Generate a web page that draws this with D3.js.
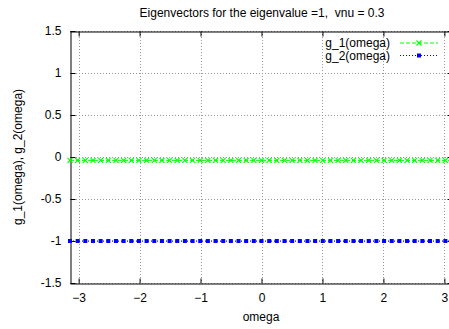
<!DOCTYPE html>
<html>
<head>
<meta charset="utf-8">
<script src="https://cdn.jsdelivr.net/npm/d3@7"></script>
<style>
  html, body { margin: 0; padding: 0; background: #fff; }
  svg { display: block; font-family: "Liberation Sans", Arial, sans-serif; }
</style>
</head>
<body>
<svg id="chart" width="449" height="329"></svg>
<script>
// Sample points of omega on [-pi, pi]
const omega = [
  -3.1416, -3.0159, -2.8903, -2.7646, -2.6389, -2.5133, -2.3876, -2.2619, -2.1363, -2.0106,
  -1.8850, -1.7593, -1.6336, -1.5080, -1.3823, -1.2566, -1.1310, -1.0053, -0.8796, -0.7540,
  -0.6283, -0.5027, -0.3770, -0.2513, -0.1257, 0.0000, 0.1257, 0.2513, 0.3770, 0.5027,
  0.6283, 0.7540, 0.8796, 1.0053, 1.1310, 1.2566, 1.3823, 1.5080, 1.6336, 1.7593,
  1.8850, 2.0106, 2.1363, 2.2619, 2.3876, 2.5133, 2.6389, 2.7646, 2.8903, 3.0159, 3.1416
];
// Eigenvector components
const g1 = [
  -0.04, -0.04, -0.04, -0.04, -0.04, -0.04, -0.04, -0.04, -0.04, -0.04,
  -0.04, -0.04, -0.04, -0.04, -0.04, -0.04, -0.04, -0.04, -0.04, -0.04,
  -0.04, -0.04, -0.04, -0.04, -0.04, -0.04, -0.04, -0.04, -0.04, -0.04,
  -0.04, -0.04, -0.04, -0.04, -0.04, -0.04, -0.04, -0.04, -0.04, -0.04,
  -0.04, -0.04, -0.04, -0.04, -0.04, -0.04, -0.04, -0.04, -0.04, -0.04, -0.04
];
const g2 = [
  -1, -1, -1, -1, -1, -1, -1, -1, -1, -1,
  -1, -1, -1, -1, -1, -1, -1, -1, -1, -1,
  -1, -1, -1, -1, -1, -1, -1, -1, -1, -1,
  -1, -1, -1, -1, -1, -1, -1, -1, -1, -1,
  -1, -1, -1, -1, -1, -1, -1, -1, -1, -1, -1
];
const xTicks = [-3, -2, -1, 0, 1, 2, 3];
const yTicks = [-1.5, -1, -0.5, 0, 0.5, 1, 1.5];
const seriesNames = ["g_1(omega)", "g_2(omega)"];

const svg = d3.select("#chart");
const W = 449, H = 329;
const margin = { left: 70, right: -4, top: 31, bottom: 46 };
const x = d3.scaleLinear().domain([-Math.PI, Math.PI]).range([margin.left, W - margin.right]);
const y = d3.scaleLinear().domain([-1.5, 1.5]).range([H - margin.bottom, margin.top]);
const fs = 12;

// grid
const grid = svg.append("g").attr("stroke", "#999").attr("stroke-width", 1).attr("stroke-dasharray", "1,2");
xTicks.forEach(t => {
  grid.append("line").attr("x1", Math.round(x(t)) + 0.5).attr("x2", Math.round(x(t)) + 0.5)
    .attr("y1", y(1.5)).attr("y2", y(-1.5));
});
yTicks.forEach(t => {
  grid.append("line").attr("y1", Math.round(y(t)) + 0.5).attr("y2", Math.round(y(t)) + 0.5)
    .attr("x1", x(-Math.PI)).attr("x2", x(Math.PI));
});

// axes with inward ticks on all sides
const tickLen = 5;
const xb = svg.append("g").attr("transform", `translate(0,${y(-1.5) + 0.5})`)
  .call(d3.axisBottom(x).tickValues(xTicks).tickSizeInner(-tickLen).tickSizeOuter(0).tickPadding(10).tickFormat(d3.format("d")));
const xt = svg.append("g").attr("transform", `translate(0,${y(1.5) + 0.5})`)
  .call(d3.axisTop(x).tickValues(xTicks).tickSizeInner(-tickLen).tickSizeOuter(0).tickFormat(""));
const yl = svg.append("g").attr("transform", `translate(${x(-Math.PI) + 0.5},0)`)
  .call(d3.axisLeft(y).tickValues(yTicks).tickSizeInner(-tickLen).tickSizeOuter(0).tickPadding(9).tickFormat(d => String(d)));
const yr = svg.append("g").attr("transform", `translate(${x(Math.PI) - 0.5},0)`)
  .call(d3.axisRight(y).tickValues(yTicks).tickSizeInner(-tickLen).tickSizeOuter(0).tickFormat(""));
[xb, xt, yl, yr].forEach(g => {
  g.selectAll("path.domain").attr("stroke", "#000").attr("stroke-width", 1);
  g.selectAll(".tick line").attr("stroke", "#000");
  g.selectAll("text").attr("font-size", fs).attr("font-family", "Liberation Sans, Arial, sans-serif").attr("fill", "#000");
});

// series
const line = d3.line().x(d => x(d[0])).y(d => y(d[1]));
const d1 = omega.map((o, i) => [o, g1[i]]);
const d2 = omega.map((o, i) => [o, g2[i]]);
const plot = svg.append("g");

plot.append("path").datum(d1).attr("d", line).attr("fill", "none")
  .attr("stroke", "#00ff00").attr("stroke-width", 1).attr("stroke-dasharray", "4,2");
plot.append("path").datum(d2).attr("d", line).attr("fill", "none")
  .attr("stroke", "#0000ff").attr("stroke-width", 1).attr("stroke-dasharray", "1,2");

const xMark = (g, cx, cy, s) => {
  g.append("path").attr("d", `M${cx - s},${cy - s}L${cx + s},${cy + s}M${cx - s},${cy + s}L${cx + s},${cy - s}`)
    .attr("stroke", "#00ff00").attr("stroke-width", 1.2).attr("fill", "none");
};
const sqMark = (g, cx, cy, s) => {
  g.append("rect").attr("x", cx - s).attr("y", cy - s).attr("width", 2 * s).attr("height", 2 * s)
    .attr("fill", "#0000ff");
};
d1.forEach(d => xMark(plot, x(d[0]), y(d[1]), 2.5));
d2.forEach(d => sqMark(plot, x(d[0]), y(d[1]), 2));

// legend
const leg = svg.append("g");
[0, 1].forEach(i => {
  const ly = 43 + i * 12.5;
  leg.append("text").attr("x", 390).attr("y", ly).attr("dy", "0.35em").attr("text-anchor", "end")
    .attr("font-size", fs).text(seriesNames[i]);
  leg.append("line").attr("x1", 400).attr("x2", 438).attr("y1", ly).attr("y2", ly)
    .attr("stroke", i === 0 ? "#00ff00" : "#0000ff").attr("stroke-width", 1)
    .attr("stroke-dasharray", i === 0 ? "4,2" : "1,2");
  if (i === 0) xMark(leg, 419, ly, 2.5); else sqMark(leg, 419, ly, 2);
});

// titles
svg.append("text").attr("x", 262).attr("y", 13).attr("dy", "0.35em").attr("text-anchor", "middle")
  .attr("font-size", fs).style("white-space", "pre").text("Eigenvectors for the eigenvalue =1,  vnu = 0.3");
svg.append("text").attr("x", 261).attr("y", 317).attr("dy", "0.35em").attr("text-anchor", "middle")
  .attr("font-size", fs).text("omega");
svg.append("text").attr("transform", `translate(18,${y(0)}) rotate(-90)`).attr("dy", "0.35em")
  .attr("text-anchor", "middle").attr("font-size", fs).text("g_1(omega), g_2(omega)");
</script>
</body>
</html>
